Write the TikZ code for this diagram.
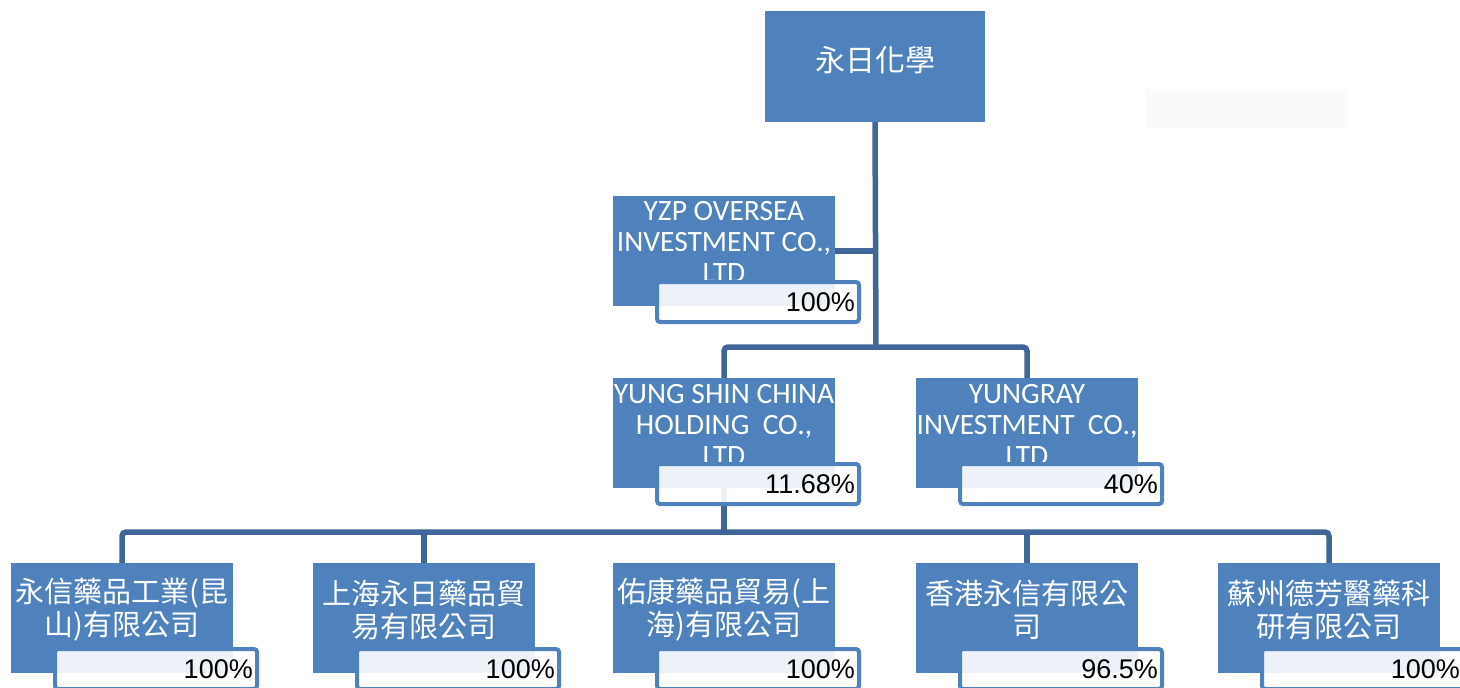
\documentclass[tikz,border=0pt]{standalone}
\usepackage{fontspec}
\setmainfont{Carlito}
\newfontfamily\cjk{Noto Sans CJK TC}
\newfontfamily\pctfont{Liberation Sans}
\usetikzlibrary{backgrounds}
\definecolor{boxblue}{RGB}{79,129,189}
\definecolor{lineblue}{RGB}{63,101,153}
\begin{document}
\begin{tikzpicture}[x=1pt,y=-1pt,
 orgbox/.style={rectangle, fill=boxblue, minimum width=222pt, minimum height=110pt, inner sep=0pt, outer sep=0pt, anchor=north west},
 latintext/.style={text=white, align=center, font=\fontsize{29.5}{31}\selectfont, inner sep=0pt},
 cjktext/.style={text=white, align=center, font=\cjk\fontsize{29}{33}\selectfont, inner sep=0pt},
 pctbox/.style={rectangle, rounded corners=3pt, draw=boxblue, line width=4pt, fill=white, fill opacity=0.9, minimum width=202pt, minimum height=40pt, inner sep=0pt, outer sep=0pt, anchor=north west},
 pcttext/.style={text=black, font=\pctfont\fontsize{27}{30}\selectfont, inner sep=0pt, anchor=east},
 link/.style={draw=lineblue, line width=5.5pt, rounded corners=4pt}]
\useasboundingbox (0,0) rectangle (1460,688);

% faint blank box
\node[fill=white!98!black, minimum width=203pt, minimum height=39pt, anchor=north west, inner sep=0pt] (blank) at (1145,89) {};

% top
\node[orgbox, minimum width=220pt, minimum height=111pt] (top) at (765,11) {};
\node[cjktext, font=\cjk\fontsize{30}{33}\selectfont] (top-t) at ([yshift=6pt]top.center) {永日化學};

% YZP
\node[orgbox] (yzp) at (613,196) {};
\node[latintext] (yzp-t) at ([yshift=9pt]yzp.center) {YZP OVERSEA\\INVESTMENT CO.,\\LTD};
\node[pctbox] (yzp-p) at ([xshift=44pt,yshift=24pt]yzp.south west) {};
\node[pcttext] (yzp-v) at ([xshift=-4pt]yzp-p.east) {100\%};

% YUNG SHIN CHINA
\node[orgbox] (ysc) at (613,378) {};
\node[latintext] (ysc-t) at ([yshift=8pt]ysc.center) {YUNG SHIN CHINA\\HOLDING\ \ CO.,\\LTD};
\node[pctbox] (ysc-p) at ([xshift=44pt,yshift=24pt]ysc.south west) {};
\node[pcttext] (ysc-v) at ([xshift=-4pt]ysc-p.east) {11.68\%};

% YUNGRAY
\node[orgbox] (yr) at (916,378) {};
\node[latintext] (yr-t) at ([yshift=8pt]yr.center) {YUNGRAY\\INVESTMENT\ \ CO.,\\LTD};
\node[pctbox] (yr-p) at ([xshift=44pt,yshift=24pt]yr.south west) {};
\node[pcttext] (yr-v) at ([xshift=-4pt]yr-p.east) {40\%};

% bottom row
\node[orgbox] (b1) at (11,563) {};
\node[cjktext] (b1-t) at ([yshift=8pt]b1.center) {永信藥品工業(昆\\山)有限公司};
\node[pctbox] (b1-p) at ([xshift=44pt,yshift=24pt]b1.south west) {};
\node[pcttext] (b1-v) at ([xshift=-4pt]b1-p.east) {100\%};

\node[orgbox] (b2) at (313,563) {};
\node[cjktext] (b2-t) at ([yshift=8pt]b2.center) {上海永日藥品貿\\易有限公司};
\node[pctbox] (b2-p) at ([xshift=44pt,yshift=24pt]b2.south west) {};
\node[pcttext] (b2-v) at ([xshift=-4pt]b2-p.east) {100\%};

\node[orgbox] (b3) at (613,563) {};
\node[cjktext] (b3-t) at ([yshift=8pt]b3.center) {佑康藥品貿易(上\\海)有限公司};
\node[pctbox] (b3-p) at ([xshift=44pt,yshift=24pt]b3.south west) {};
\node[pcttext] (b3-v) at ([xshift=-4pt]b3-p.east) {100\%};

\node[orgbox] (b4) at (916,563) {};
\node[cjktext] (b4-t) at ([yshift=8pt]b4.center) {香港永信有限公\\司};
\node[pctbox] (b4-p) at ([xshift=44pt,yshift=24pt]b4.south west) {};
\node[pcttext] (b4-v) at ([xshift=-4pt]b4-p.east) {96.5\%};

\node[orgbox] (b5) at (1218,563) {};
\node[cjktext] (b5-t) at ([yshift=8pt]b5.center) {蘇州德芳醫藥科\\研有限公司};
\node[pctbox] (b5-p) at ([xshift=44pt,yshift=24pt]b5.south west) {};
\node[pcttext] (b5-v) at ([xshift=-4pt]b5-p.east) {100\%};

\coordinate (hub1) at (876,347);
\coordinate (hub2) at (724,532);

\begin{scope}[on background layer]
\fill[white] (0,0) rectangle (1460,688);
\draw[link] (top.south) -- (hub1);
\draw[link] (yzp.east) -- (yzp.east -| top.south);
\draw[link] (ysc.north) |- (hub1) -| (yr.north);
\draw[link] (ysc.south) -- (hub2);
\draw[link] (b1.north) |- (hub2) -| (b5.north);
\draw[link] (b2.north) -- (b2.north |- hub2);
\draw[link] (b4.north) -- (b4.north |- hub2);
\end{scope}
\end{tikzpicture}
\end{document}
